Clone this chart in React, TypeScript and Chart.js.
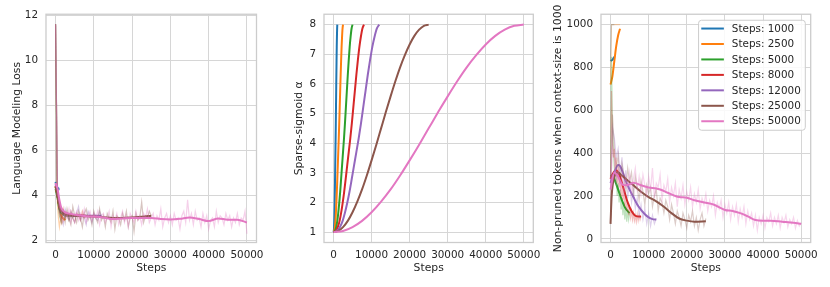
import React, { useEffect, useRef } from "react";
import { Chart, registerables } from "chart.js";

Chart.register(...registerables);

// ---------- data ----------
const RUN_LABELS = ["Steps: 1000", "Steps: 2500", "Steps: 5000", "Steps: 8000", "Steps: 12000", "Steps: 25000", "Steps: 50000"];
const RUN_STEPS = [1000, 2500, 5000, 8000, 12000, 25000, 50000];
const RUN_COLORS = ["#1f77b4", "#ff7f0e", "#2ca02c", "#d62728", "#9467bd", "#8c564b", "#e377c2"];

const X_TICKS = [0, 10000, 20000, 30000, 40000, 50000];
const LOSS_TICKS = [2, 4, 6, 8, 10, 12];
const ALPHA_TICKS = [1, 2, 3, 4, 5, 6, 7, 8];
const TOKEN_TICKS = [0, 200, 400, 600, 800, 1000];

// raw logging interval of each run (steps)
const LOSS_RAW_INTERVAL = [250, 250, 500, 500, 500, 500, 500];
const TOKEN_RAW_INTERVAL = [250, 250, 250, 250, 500, 500, 500];

// Language modelling loss, raw
const LOSS_RAW_1000 = [11.6, 4.6, 4.3, 4.2, 4.3];
const LOSS_RAW_2500 = [11.6, 4.4, 3.6, 3.0, 2.6, 2.9, 3.1, 2.8, 2.9, 3.0, 2.9];
const LOSS_RAW_5000 = [11.6, 3.9, 3.1, 2.8, 3.3, 3.0, 3.2, 2.9, 3.1, 3.0, 3.1];
const LOSS_RAW_8000 = [11.6, 4.0, 3.2, 2.8, 3.4, 3.0, 3.2, 2.9, 3.3, 3.0, 2.8, 3.2, 3.1, 2.9, 3.3, 3.0, 3.1];
const LOSS_RAW_12000 = [11.6, 4.3, 3.3, 3.0, 2.7, 3.4, 3.1, 2.9, 3.3, 3.0, 2.8, 3.2, 3.5, 2.9, 3.1, 3.0, 2.7, 3.3, 3.1, 2.8, 3.2, 3.0, 2.9, 3.3, 3.1];
const LOSS_RAW_25000 = [
  11.6, 4.2, 3.4, 3.0, 3.3, 2.8, 3.4, 3.0, 2.7, 3.5,
  3.1, 2.8, 3.3, 3.0, 2.6, 3.2, 3.4, 2.9, 3.1, 2.7,
  3.3, 3.0, 2.8, 3.4, 2.9, 3.1, 2.6, 3.2, 3.0, 2.8,
  3.3, 2.5, 3.1, 3.0, 2.7, 3.2, 2.9, 3.3, 2.6, 3.0,
  3.1, 2.4, 3.2, 2.9, 3.0, 3.7, 2.8, 3.1, 3.0, 3.3,
  3.1,
];
const LOSS_RAW_50000 = [
  11.6, 4.4, 3.5, 3.3, 2.9, 3.3, 3.0, 3.4, 2.8, 3.2,
  3.1, 3.3, 2.9, 3.2, 3.0, 3.4, 2.8, 3.1, 3.3, 2.9,
  3.2, 3.0, 3.3, 2.7, 3.1, 3.2, 2.8, 3.0, 3.3, 2.6,
  3.1, 2.9, 3.2, 2.7, 3.0, 3.3, 2.8, 3.1, 2.6, 3.2,
  3.0, 2.8, 3.3, 2.9, 3.1, 2.7, 3.2, 3.0, 3.4, 2.8,
  3.0, 3.2, 2.7, 3.1, 2.9, 3.4, 2.6, 3.0, 3.2, 2.8,
  3.1, 2.7, 3.2, 2.9, 3.0, 2.5, 3.1, 3.3, 2.8, 3.8,
  2.9, 3.2, 2.7, 3.3, 2.9, 3.0, 2.6, 3.2, 2.8, 3.1,
  2.5, 2.9, 3.0, 2.6, 3.3, 2.8, 3.1, 3.0, 2.7, 3.2,
  2.9, 3.1, 2.6, 3.0, 2.8, 3.2, 2.7, 3.0, 2.9, 3.3,
  2.3,
];

// Language modelling loss, smoothed
const LOSS_SMOOTH_STEPS_1000 = [0, 250, 500, 750, 1000];
const LOSS_SMOOTH_1000 = [4.6, 4.4, 4.35, 4.3, 4.3];
const LOSS_SMOOTH_STEPS_2500 = [0, 500, 1000, 1500, 2500];
const LOSS_SMOOTH_2500 = [4.4, 4.0, 3.5, 3.1, 2.9];
const LOSS_SMOOTH_STEPS_5000 = [0, 500, 1000, 2000, 3000, 5000];
const LOSS_SMOOTH_5000 = [4.3, 3.9, 3.4, 3.15, 3.1, 3.1];
const LOSS_SMOOTH_STEPS_8000 = [0, 500, 1000, 2000, 3000, 5000, 8000];
const LOSS_SMOOTH_8000 = [4.4, 4.0, 3.5, 3.2, 3.15, 3.12, 3.1];
const LOSS_SMOOTH_STEPS_12000 = [0, 500, 1000, 2000, 3000, 5000, 7500, 10000, 12000];
const LOSS_SMOOTH_12000 = [4.5, 4.1, 3.6, 3.2, 3.12, 3.1, 3.1, 3.1, 3.1];
const LOSS_SMOOTH_STEPS_25000 = [0, 500, 1000, 2000, 3000, 5000, 7500, 10000, 12500, 15000, 17500, 20000, 22500, 25000];
const LOSS_SMOOTH_25000 = [4.4, 4.0, 3.5, 3.2, 3.12, 3.1, 3.08, 3.06, 3.03, 3.0, 3.0, 3.02, 3.05, 3.1];
const LOSS_SMOOTH_STEPS_50000 = [0, 500, 1000, 1500, 2500, 4000, 6000, 8000, 10000, 12500, 15000, 17500, 20000, 22500, 25000, 27500, 30000, 32500, 35000, 37500, 40000, 42500, 45000, 47500, 50000];
const LOSS_SMOOTH_50000 = [4.55, 4.3, 3.8, 3.45, 3.25, 3.18, 3.12, 3.08, 3.06, 3.02, 2.95, 2.98, 3.0, 3.0, 3.0, 2.95, 2.93, 2.96, 3.02, 2.95, 2.86, 2.98, 2.92, 2.92, 2.8];

// Sparse-sigmoid alpha schedule: fraction of the run vs. alpha
const ALPHA_FRACTION = [0, 0.05, 0.1, 0.15, 0.2, 0.25, 0.3, 0.35, 0.4, 0.45, 0.5, 0.55, 0.6, 0.65, 0.7, 0.75, 0.8, 0.85, 0.9, 0.95, 1];
// short runs (1000 - 12000 steps)
const ALPHA_VALUE_SHORT = [1, 1.02, 1.08, 1.2, 1.38, 1.65, 1.98, 2.36, 2.8, 3.25, 3.7, 4.15, 4.65, 5.2, 5.75, 6.3, 6.8, 7.25, 7.6, 7.87, 8];
// long runs (25000 and 50000 steps)
const ALPHA_VALUE_LONG = [1, 1.04, 1.17, 1.38, 1.67, 2.03, 2.44, 2.91, 3.42, 3.95, 4.5, 5.05, 5.58, 6.09, 6.56, 6.97, 7.33, 7.62, 7.83, 7.96, 8];
const ALPHA_CURVES = [ALPHA_VALUE_SHORT, ALPHA_VALUE_SHORT, ALPHA_VALUE_SHORT, ALPHA_VALUE_SHORT, ALPHA_VALUE_SHORT, ALPHA_VALUE_LONG, ALPHA_VALUE_LONG];

// Non-pruned tokens, raw
const TOKEN_RAW_1000 = [830, 1000, 1000, 1000, 1000];
const TOKEN_RAW_2500 = [720, 1000, 1000, 1000, 1000, 1000, 1000, 1000, 1000, 1000, 1000];
const TOKEN_RAW_5000 = [290, 850, 520, 400, 330, 260, 310, 200, 260, 170, 230, 140, 190, 110, 170, 90, 150, 80, 130, 90, 120];
const TOKEN_RAW_8000 = [280, 690, 450, 380, 420, 300, 380, 260, 340, 240, 300, 200, 260, 180, 230, 150, 200, 130, 170, 110, 150, 100, 130, 90, 120, 85, 110, 80, 115, 85, 110, 90, 105];
const TOKEN_RAW_12000 = [260, 520, 470, 380, 420, 300, 380, 250, 320, 190, 270, 170, 230, 140, 190, 110, 160, 90, 140, 70, 120, 60, 110, 70, 95];
const TOKEN_RAW_25000 = [
  70, 580, 420, 330, 390, 260, 350, 300, 230, 330,
  270, 310, 200, 290, 240, 180, 270, 220, 160, 250,
  210, 240, 150, 200, 230, 130, 190, 170, 120, 180,
  150, 90, 160, 120, 70, 130, 100, 60, 120, 90,
  50, 110, 80, 130, 60, 100, 40, 90, 120, 60,
  95,
];
const TOKEN_RAW_50000 = [
  230, 420, 380, 260, 320, 230, 300, 210, 290, 240,
  310, 220, 280, 330, 230, 290, 210, 300, 250, 200,
  290, 230, 330, 190, 260, 240, 300, 180, 250, 220,
  280, 170, 240, 200, 260, 150, 230, 190, 250, 160,
  220, 180, 240, 150, 210, 170, 230, 140, 190, 160,
  210, 130, 180, 150, 200, 110, 170, 140, 180, 100,
  160, 120, 170, 90, 150, 110, 160, 80, 140, 100,
  150, 70, 130, 90, 120, 60, 110, 40, 100, 70,
  110, 50, 100, 80, 120, 60, 100, 70, 110, 50,
  100, 75, 110, 55, 90, 70, 100, 50, 85, 60,
  75,
];

// Non-pruned tokens, smoothed
const TOKEN_SMOOTH_STEPS_1000 = [0, 500, 1000];
const TOKEN_SMOOTH_1000 = [830, 835, 850];
const TOKEN_SMOOTH_STEPS_2500 = [0, 500, 1000, 1500, 2000, 2500];
const TOKEN_SMOOTH_2500 = [720, 760, 830, 900, 950, 980];
const TOKEN_SMOOTH_STEPS_5000 = [0, 500, 1000, 2000, 3000, 4000, 5000];
const TOKEN_SMOOTH_5000 = [290, 300, 280, 230, 180, 140, 120];
const TOKEN_SMOOTH_STEPS_8000 = [0, 500, 1000, 1500, 2000, 2500, 3500, 4500, 5500, 6500, 7500, 8000];
const TOKEN_SMOOTH_8000 = [280, 300, 315, 320, 310, 290, 230, 170, 130, 108, 104, 104];
const TOKEN_SMOOTH_STEPS_12000 = [0, 1000, 2000, 2500, 3000, 4000, 5000, 6000, 7000, 8000, 9000, 10000, 11000, 12000];
const TOKEN_SMOOTH_12000 = [260, 310, 345, 340, 320, 270, 230, 195, 160, 135, 115, 100, 92, 90];
const TOKEN_SMOOTH_STEPS_25000 = [0, 300, 1000, 2000, 3000, 4000, 6000, 8000, 10000, 12000, 14000, 16000, 18000, 20000, 22000, 25000];
const TOKEN_SMOOTH_25000 = [70, 200, 290, 310, 295, 280, 250, 220, 195, 175, 150, 120, 95, 85, 80, 82];
const TOKEN_SMOOTH_STEPS_50000 = [0, 1000, 2000, 3000, 4000, 5000, 6000, 8000, 10000, 12000, 13000, 15000, 17000, 18000, 20000, 22000, 25000, 27000, 30000, 32000, 34000, 36000, 38000, 40000, 42000, 45000, 48000, 50000];
const TOKEN_SMOOTH_50000 = [230, 310, 290, 255, 250, 255, 262, 250, 240, 235, 230, 215, 200, 195, 192, 180, 168, 160, 135, 130, 120, 105, 88, 85, 85, 80, 75, 70];

const LOSS_RAW = [LOSS_RAW_1000, LOSS_RAW_2500, LOSS_RAW_5000, LOSS_RAW_8000, LOSS_RAW_12000, LOSS_RAW_25000, LOSS_RAW_50000];
const LOSS_SMOOTH_STEPS = [LOSS_SMOOTH_STEPS_1000, LOSS_SMOOTH_STEPS_2500, LOSS_SMOOTH_STEPS_5000, LOSS_SMOOTH_STEPS_8000, LOSS_SMOOTH_STEPS_12000, LOSS_SMOOTH_STEPS_25000, LOSS_SMOOTH_STEPS_50000];
const LOSS_SMOOTH = [LOSS_SMOOTH_1000, LOSS_SMOOTH_2500, LOSS_SMOOTH_5000, LOSS_SMOOTH_8000, LOSS_SMOOTH_12000, LOSS_SMOOTH_25000, LOSS_SMOOTH_50000];
const TOKEN_RAW = [TOKEN_RAW_1000, TOKEN_RAW_2500, TOKEN_RAW_5000, TOKEN_RAW_8000, TOKEN_RAW_12000, TOKEN_RAW_25000, TOKEN_RAW_50000];
const TOKEN_SMOOTH_STEPS = [TOKEN_SMOOTH_STEPS_1000, TOKEN_SMOOTH_STEPS_2500, TOKEN_SMOOTH_STEPS_5000, TOKEN_SMOOTH_STEPS_8000, TOKEN_SMOOTH_STEPS_12000, TOKEN_SMOOTH_STEPS_25000, TOKEN_SMOOTH_STEPS_50000];
const TOKEN_SMOOTH = [TOKEN_SMOOTH_1000, TOKEN_SMOOTH_2500, TOKEN_SMOOTH_5000, TOKEN_SMOOTH_8000, TOKEN_SMOOTH_12000, TOKEN_SMOOTH_25000, TOKEN_SMOOTH_50000];

// ---------- styling ----------
const W = 830;
const H = 287;
const FONT = "DejaVu Sans";
const TICK_SIZE = 10.4;
const LABEL_SIZE = 10.8;
const TEXT = "#262626";
const GRID = "#d6d6d6";
const FRAME = "#cccccc";

const seq = (vals: number[], interval: number) => vals.map((v, i) => ({ x: i * interval, y: v }));
const pairs = (xs: number[], ys: number[]) => xs.map((x, i) => ({ x, y: ys[i] }));

function withAlpha(hex: string, a: number) {
  const r = parseInt(hex.slice(1, 3), 16);
  const g = parseInt(hex.slice(3, 5), 16);
  const b = parseInt(hex.slice(5, 7), 16);
  return `rgba(${r},${g},${b},${a})`;
}

function rawAndSmooth(raw: number[][], intervals: number[], sx: number[][], sy: number[][], rawAlpha: number) {
  const out: any[] = [];
  const n = RUN_LABELS.length * 2;
  RUN_LABELS.forEach((label, i) => {
    out.push({
      data: seq(raw[i], intervals[i]),
      borderColor: withAlpha(RUN_COLORS[i], rawAlpha),
      borderWidth: 1.2,
      pointRadius: 0,
      fill: false,
      tension: 0,
      order: n - out.length,
    });
    out.push({
      label,
      data: pairs(sx[i], sy[i]),
      borderColor: RUN_COLORS[i],
      borderWidth: 2,
      pointRadius: 0,
      fill: false,
      cubicInterpolationMode: "monotone",
      order: n - out.length,
    });
  });
  return out;
}

function alphaDatasets() {
  const n = RUN_LABELS.length;
  return RUN_LABELS.map((label, i) => ({
    label,
    data: ALPHA_FRACTION.map((f, k) => ({ x: f * RUN_STEPS[i], y: ALPHA_CURVES[i][k] })),
    borderColor: RUN_COLORS[i],
    borderWidth: 2,
    pointRadius: 0,
    fill: false,
    cubicInterpolationMode: "monotone",
    order: n - i,
  }));
}

const framePlugin = {
  id: "frame",
  afterDatasetsDraw(chart: any) {
    const { ctx, chartArea: a } = chart;
    ctx.save();
    ctx.strokeStyle = FRAME;
    ctx.lineWidth = 1.3;
    ctx.strokeRect(a.left, a.top, a.right - a.left, a.bottom - a.top);
    ctx.restore();
  },
};

const insideLegendPlugin = {
  id: "insideLegend",
  afterDraw(chart: any) {
    const { ctx, chartArea: a } = chart;
    const items = chart.data.datasets.filter((d: any) => d.label);
    ctx.save();
    ctx.font = `${TICK_SIZE}px "${FONT}"`;
    const textW = Math.max(...items.map((d: any) => ctx.measureText(d.label).width));
    const rowH = 15.45;
    const w = 33.3 + textW + 4.5;
    const h = 8.3 + rowH * (items.length - 1) + 9;
    const left = a.right - 5.4 - w;
    const top = a.top + 6;
    ctx.beginPath();
    ctx.roundRect(left, top, w, h, 3);
    ctx.fillStyle = "rgba(255,255,255,0.85)";
    ctx.fill();
    ctx.strokeStyle = FRAME;
    ctx.lineWidth = 1;
    ctx.stroke();
    items.forEach((d: any, i: number) => {
      const y = top + 8.3 + i * rowH;
      ctx.beginPath();
      ctx.moveTo(left + 2.7, y);
      ctx.lineTo(left + 25.3, y);
      ctx.strokeStyle = d.borderColor;
      ctx.lineWidth = 2;
      ctx.stroke();
      ctx.fillStyle = TEXT;
      ctx.textBaseline = "middle";
      ctx.textAlign = "left";
      ctx.fillText(d.label, left + 33.3, y + 0.5);
    });
    ctx.restore();
  },
};

type Panel = {
  padLeft: number;
  yWidth: number;
  padRight: number;
  yTitle: string;
  yMin: number;
  yMax: number;
  yTicks: number[];
  datasets: any[];
  legend: boolean;
};

const PANELS: Panel[] = [
  {
    padLeft: 10.5,
    yWidth: 35.5,
    padRight: W - 256.5,
    yTitle: "Language Modeling Loss",
    yMin: 1.91,
    yMax: 12.04,
    yTicks: LOSS_TICKS,
    datasets: rawAndSmooth(LOSS_RAW, LOSS_RAW_INTERVAL, LOSS_SMOOTH_STEPS, LOSS_SMOOTH, 0.35),
    legend: false,
  },
  {
    padLeft: 292.5,
    yWidth: 31.5,
    padRight: W - 533.3,
    yTitle: "Sparse-sigmoid α",
    yMin: 0.65,
    yMax: 8.35,
    yTicks: ALPHA_TICKS,
    datasets: alphaDatasets(),
    legend: false,
  },
  {
    padLeft: 551.5,
    yWidth: 49.5,
    padRight: W - 810.7,
    yTitle: "Non-pruned tokens when context-size is 1000",
    yMin: -17,
    yMax: 1048,
    yTicks: TOKEN_TICKS,
    datasets: rawAndSmooth(TOKEN_RAW, TOKEN_RAW_INTERVAL, TOKEN_SMOOTH_STEPS, TOKEN_SMOOTH, 0.3),
    legend: true,
  },
];

function PanelChart({ p }: { p: Panel }) {
  const ref = useRef<HTMLCanvasElement | null>(null);
  useEffect(() => {
    if (!ref.current) return;
    const tickFont = { family: FONT, size: TICK_SIZE };
    const labelFont = { family: FONT, size: LABEL_SIZE };
    const chart = new Chart(ref.current, {
      type: "line",
      data: { datasets: p.datasets },
      options: {
        animation: false,
        responsive: false,
        events: [],
        layout: { padding: { left: p.padLeft, right: p.padRight, top: 14, bottom: 0 } },
        plugins: { legend: { display: false }, tooltip: { enabled: false } },
        scales: {
          x: {
            type: "linear",
            min: -2500,
            max: 52500,
            afterBuildTicks: (s: any) => {
              s.ticks = X_TICKS.map((v) => ({ value: v }));
            },
            afterFit: (s: any) => {
              s.height = 44.5;
            },
            grid: { color: GRID, lineWidth: 1, drawTicks: false },
            border: { display: false },
            ticks: { padding: 7, font: tickFont, color: TEXT, maxRotation: 0, autoSkip: false, callback: (v: any) => String(v) },
            title: { display: true, text: "Steps", font: labelFont, color: TEXT, padding: { top: 0, bottom: 12 } },
          },
          y: {
            type: "linear",
            min: p.yMin,
            max: p.yMax,
            afterBuildTicks: (s: any) => {
              s.ticks = p.yTicks.map((v) => ({ value: v }));
            },
            afterFit: (s: any) => {
              s.width = p.yWidth;
            },
            grid: { color: GRID, lineWidth: 1, drawTicks: false },
            border: { display: false },
            ticks: { padding: 8, font: tickFont, color: TEXT, autoSkip: false, callback: (v: any) => String(v) },
            title: { display: true, text: p.yTitle, font: labelFont, color: TEXT, padding: { top: 0, bottom: 0 } },
          },
        },
      } as any,
      plugins: p.legend ? [framePlugin, insideLegendPlugin] : [framePlugin],
    });
    return () => chart.destroy();
  }, [p]);
  return (
    <canvas
      ref={ref}
      width={W}
      height={H}
      style={{ position: "absolute", left: 0, top: 0, width: W, height: H }}
    />
  );
}

export default function App() {
  return (
    <div style={{ position: "fixed", left: 0, top: 0, width: W, height: H, background: "#fff" }}>
      {PANELS.map((p, i) => (
        <PanelChart key={i} p={p} />
      ))}
    </div>
  );
}
